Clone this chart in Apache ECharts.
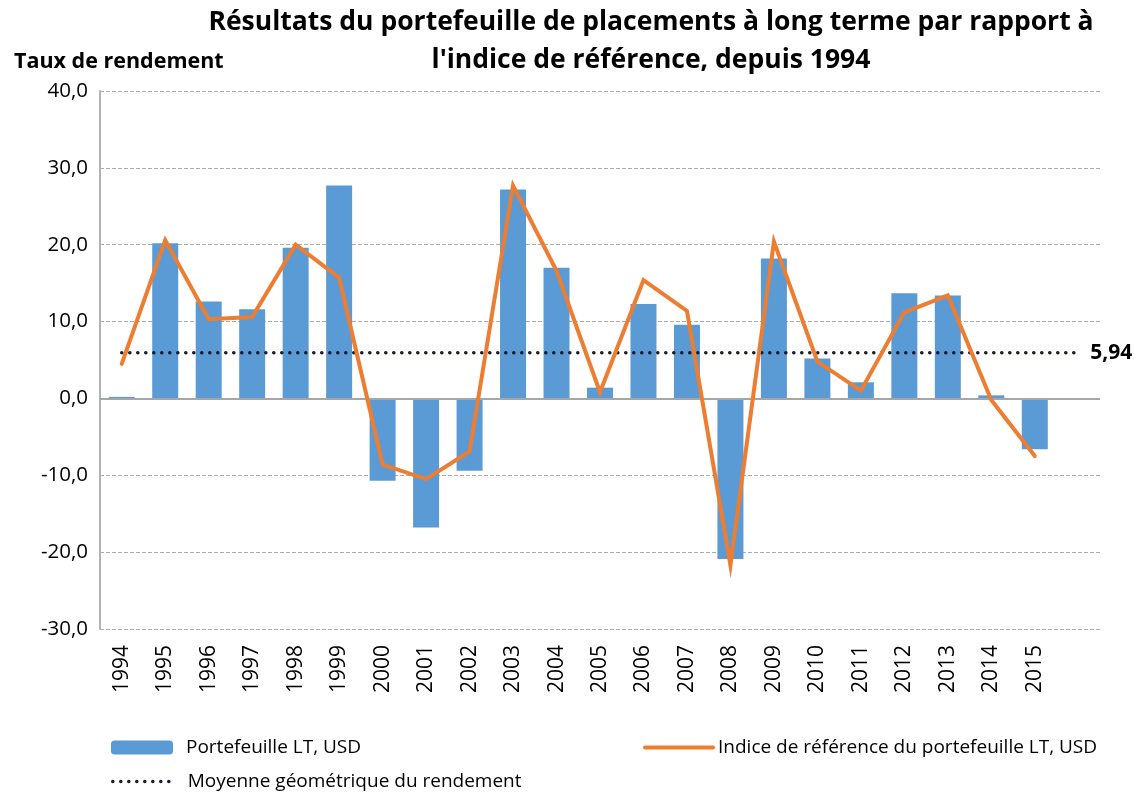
<!DOCTYPE html>
<html>
<head>
<meta charset="utf-8">
<script src="https://cdn.jsdelivr.net/npm/echarts@6/dist/echarts.min.js"></script>
<style>
  html, body { margin: 0; padding: 0; background: #fff; }
  #chart { width: 1143px; height: 796px; }
</style>
</head>
<body>
<div id="chart"></div>
<script>
// years, plus one empty slot at the end like the original sheet
var years = ['1994', '1995', '1996', '1997', '1998', '1999', '2000', '2001', '2002', '2003', '2004',
  '2005', '2006', '2007', '2008', '2009', '2010', '2011', '2012', '2013', '2014', '2015', ''];

// portfolio returns (bars)
var portfolio = [0.2, 20.2, 12.6, 11.6, 19.6, 27.7, -10.7, -16.8, -9.4, 27.2, 17.0,
  1.4, 12.3, 9.6, -20.9, 18.2, 5.2, 2.1, 13.7, 13.4, 0.4, -6.6];

// benchmark returns (orange line)
var benchmark = [4.5, 20.6, 10.3, 10.6, 20.0, 15.7, -8.6, -10.5, -6.9, 27.7, 16.6,
  0.8, 15.4, 11.4, -21.7, 20.4, 4.8, 1.0, 11.2, 13.4, -0.2, -7.5];

// geometric mean, drawn across every slot
var geoMean = 5.94;
var meanLine = years.map(function() { return geoMean; });

var yTicks = { min: -30, max: 40, step: 10 };

var fontFam = "'Open Sans', sans-serif";

function frNum(v, d) {
  return v.toFixed(d).replace('.', ',');
}

var legendText = { fontFamily: fontFam, fontSize: 19, color: '#000' };

var chart = echarts.init(document.getElementById('chart'));

var option = {
  animation: false,
  backgroundColor: '#fff',
  textStyle: { fontFamily: fontFam },
  title: [{
    text: "Résultats du portefeuille de placements à long terme par rapport à\nl'indice de référence, depuis 1994",
    left: 646,
    textAlign: 'center',
    top: -2,
    textStyle: {
      fontFamily: fontFam,
      fontWeight: 'bold',
      fontSize: 26.5,
      lineHeight: 38,
      color: '#000'
    }
  }, {
    text: 'Taux de rendement',
    left: 9,
    top: 46,
    textStyle: {
      fontFamily: fontFam,
      fontWeight: 'bold',
      fontSize: 21.5,
      color: '#000'
    }
  }],
  legend: [{
    data: ['Portefeuille LT, USD'],
    left: 106,
    top: 733,
    itemWidth: 62,
    itemHeight: 14,
    textStyle: Object.assign({ padding: [0, 0, 0, 8] }, legendText)
  }, {
    data: ['Indice de référence du portefeuille LT, USD'],
    left: 638,
    top: 733,
    itemWidth: 68,
    itemHeight: 14,
    itemStyle: { opacity: 0 },
    lineStyle: { width: 4 },
    textStyle: legendText
  }, {
    data: ['Moyenne géométrique du rendement'],
    left: 106,
    top: 767,
    itemWidth: 64,
    itemHeight: 14,
    itemStyle: { opacity: 0 },
    lineStyle: { width: 3.5 },
    textStyle: Object.assign({ padding: [0, 0, 0, 6] }, legendText)
  }],
  grid: {
    left: 100,
    right: 43,
    top: 91,
    bottom: 167,
    containLabel: false
  },
  xAxis: {
    type: 'category',
    data: years,
    axisLine: { show: false, onZero: false },
    axisTick: { show: false },
    axisLabel: {
      rotate: 90,
      interval: 0,
      margin: 16,
      fontFamily: fontFam,
      fontSize: 21,
      color: '#000'
    },
    splitLine: { show: false }
  },
  yAxis: {
    type: 'value',
    min: yTicks.min,
    max: yTicks.max,
    interval: yTicks.step,
    axisLine: { show: true, lineStyle: { color: '#b3b3b3', width: 2 } },
    axisTick: { show: false },
    axisLabel: {
      margin: 12,
      fontFamily: fontFam,
      fontSize: 20.5,
      color: '#000',
      formatter: function(v) { return frNum(v, 1); }
    },
    splitLine: { show: true, lineStyle: { color: '#ababab', type: [4, 2], width: 1 } }
  },
  series: [{
    name: 'Portefeuille LT, USD',
    type: 'bar',
    data: portfolio,
    barWidth: 26,
    itemStyle: { color: '#5B9BD5' },
    z: 2,
    markLine: {
      silent: true,
      symbol: 'none',
      label: { show: false },
      lineStyle: { color: '#a6a6a6', type: 'solid', width: 2 },
      data: [{ yAxis: 0 }],
      z: 3
    }
  }, {
    name: 'Indice de référence du portefeuille LT, USD',
    type: 'line',
    data: benchmark,
    symbol: 'none',
    lineStyle: { color: '#ED7D31', width: 4, cap: 'round', join: 'miter' },
    itemStyle: { color: '#ED7D31' },
    z: 5
  }, {
    name: 'Moyenne géométrique du rendement',
    type: 'line',
    data: meanLine,
    symbol: 'none',
    lineStyle: { color: '#1c1c28', width: 3.5, type: [0.1, 7.9], cap: 'round' },
    itemStyle: { color: '#1c1c28' },
    endLabel: {
      show: true,
      distance: 12,
      formatter: function(p) { return frNum(p.value, 2); },
      fontFamily: fontFam,
      fontWeight: 'bold',
      fontSize: 21,
      color: '#000'
    },
    z: 4
  }]
};

chart.setOption(option);
</script>
</body>
</html>
